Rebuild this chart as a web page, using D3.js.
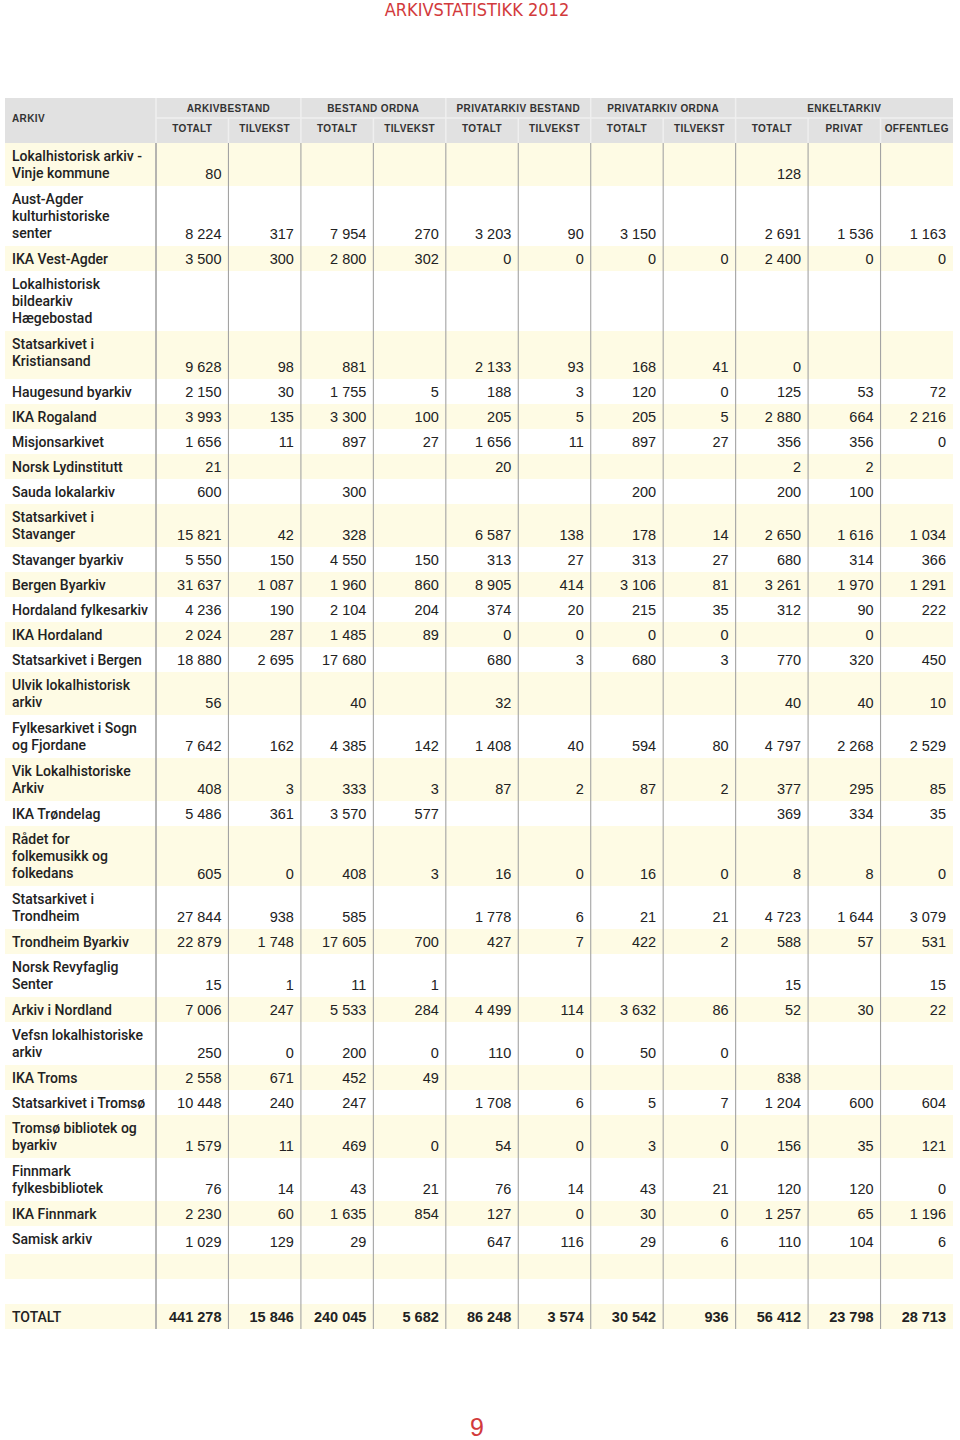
<!DOCTYPE html>
<html>
<head>
<meta charset="utf-8">
<script src="https://cdn.jsdelivr.net/npm/d3@7"></script>
<style>
  body { margin: 0; background: #fff; }
  text { font-family: "Liberation Sans", Arial, sans-serif; }
</style>
</head>
<body>
<script>
const w = 960;
const h = 1440;

// header texts
const title = "ARKIVSTATISTIKK 2012";
const pageNumber = "9";
const groups = [
  { name: "ARKIVBESTAND", span: 2 },
  { name: "BESTAND ORDNA", span: 2 },
  { name: "PRIVATARKIV BESTAND", span: 2 },
  { name: "PRIVATARKIV ORDNA", span: 2 },
  { name: "ENKELTARKIV", span: 3 }
];
const subHeads = ["TOTALT", "TILVEKST", "TOTALT", "TILVEKST", "TOTALT", "TILVEKST",
  "TOTALT", "TILVEKST", "TOTALT", "PRIVAT", "OFFENTLEG"];

// row labels (\n = line break as printed)
const archives = [
  "Lokalhistorisk arkiv -\nVinje kommune",
  "Aust-Agder\nkulturhistoriske\nsenter",
  "IKA Vest-Agder",
  "Lokalhistorisk\nbildearkiv\nHægebostad",
  "Statsarkivet i\nKristiansand",
  "Haugesund byarkiv",
  "IKA Rogaland",
  "Misjonsarkivet",
  "Norsk Lydinstitutt",
  "Sauda lokalarkiv",
  "Statsarkivet i\nStavanger",
  "Stavanger byarkiv",
  "Bergen Byarkiv",
  "Hordaland fylkesarkiv",
  "IKA Hordaland",
  "Statsarkivet i Bergen",
  "Ulvik lokalhistorisk\narkiv",
  "Fylkesarkivet i Sogn\nog Fjordane",
  "Vik Lokalhistoriske\nArkiv",
  "IKA Trøndelag",
  "Rådet for\nfolkemusikk og\nfolkedans",
  "Statsarkivet i\nTrondheim",
  "Trondheim Byarkiv",
  "Norsk Revyfaglig\nSenter",
  "Arkiv i Nordland",
  "Vefsn lokalhistoriske\narkiv",
  "IKA Troms",
  "Statsarkivet i Tromsø",
  "Tromsø bibliotek og\nbyarkiv",
  "Finnmark\nfylkesbibliotek",
  "IKA Finnmark",
  "Samisk arkiv",
  "",
  "",
  "TOTALT"
];

// values per row, columns in subHeads order; null = empty cell
const values = [
  [80, null, null, null, null, null, null, null, 128, null, null],
  [8224, 317, 7954, 270, 3203, 90, 3150, null, 2691, 1536, 1163],
  [3500, 300, 2800, 302, 0, 0, 0, 0, 2400, 0, 0],
  [null, null, null, null, null, null, null, null, null, null, null],
  [9628, 98, 881, null, 2133, 93, 168, 41, 0, null, null],
  [2150, 30, 1755, 5, 188, 3, 120, 0, 125, 53, 72],
  [3993, 135, 3300, 100, 205, 5, 205, 5, 2880, 664, 2216],
  [1656, 11, 897, 27, 1656, 11, 897, 27, 356, 356, 0],
  [21, null, null, null, 20, null, null, null, 2, 2, null],
  [600, null, 300, null, null, null, 200, null, 200, 100, null],
  [15821, 42, 328, null, 6587, 138, 178, 14, 2650, 1616, 1034],
  [5550, 150, 4550, 150, 313, 27, 313, 27, 680, 314, 366],
  [31637, 1087, 1960, 860, 8905, 414, 3106, 81, 3261, 1970, 1291],
  [4236, 190, 2104, 204, 374, 20, 215, 35, 312, 90, 222],
  [2024, 287, 1485, 89, 0, 0, 0, 0, null, 0, null],
  [18880, 2695, 17680, null, 680, 3, 680, 3, 770, 320, 450],
  [56, null, 40, null, 32, null, null, null, 40, 40, 10],
  [7642, 162, 4385, 142, 1408, 40, 594, 80, 4797, 2268, 2529],
  [408, 3, 333, 3, 87, 2, 87, 2, 377, 295, 85],
  [5486, 361, 3570, 577, null, null, null, null, 369, 334, 35],
  [605, 0, 408, 3, 16, 0, 16, 0, 8, 8, 0],
  [27844, 938, 585, null, 1778, 6, 21, 21, 4723, 1644, 3079],
  [22879, 1748, 17605, 700, 427, 7, 422, 2, 588, 57, 531],
  [15, 1, 11, 1, null, null, null, null, 15, null, 15],
  [7006, 247, 5533, 284, 4499, 114, 3632, 86, 52, 30, 22],
  [250, 0, 200, 0, 110, 0, 50, 0, null, null, null],
  [2558, 671, 452, 49, null, null, null, null, 838, null, null],
  [10448, 240, 247, null, 1708, 6, 5, 7, 1204, 600, 604],
  [1579, 11, 469, 0, 54, 0, 3, 0, 156, 35, 121],
  [76, 14, 43, 21, 76, 14, 43, 21, 120, 120, 0],
  [2230, 60, 1635, 854, 127, 0, 30, 0, 1257, 65, 1196],
  [1029, 129, 29, null, 647, 116, 29, 6, 110, 104, 6],
  [null, null, null, null, null, null, null, null, null, null, null],
  [null, null, null, null, null, null, null, null, null, null, null],
  [441278, 15846, 240045, 5682, 86248, 3574, 30542, 936, 56412, 23798, 28713]
];

const red = "#d23a3c";
const headGrey = "#e1e1e1";
const yellow = "#fefbe4";
const lineGrey = "#a3a3a3";
const ink = "#222";

const fmt = d3.formatLocale({ decimal: ",", thousands: " ", grouping: [3], currency: ["", ""] }).format(",d");

const svg = d3.select("body").append("svg")
  .attr("width", w)
  .attr("height", h);

// layout
const tableLeft = 5, tableRight = 953, labelRight = 156;
const headTop = 98, headMid = 118, bodyTop = 143, bodyBottom = 1329;

const x = d3.scaleBand()
  .domain(d3.range(subHeads.length))
  .range([labelRight, tableRight]);

// row height by number of label lines, plus a little slack on two rows as printed
const heightByLines = [25, 25, 43, 60];
const rowExtra = { 4: 5, 31: 3 };
const lineH = 17;
const rows = archives.map((a, i) => {
  const label = a.split("\n");
  return { label: label, vals: values[i], units: heightByLines[label.length] + (rowExtra[i] || 0) };
});
let acc = 0;
rows.forEach(r => { r.u0 = acc; acc += r.units; r.u1 = acc; });
const y = d3.scaleLinear().domain([0, acc]).range([bodyTop, bodyBottom]);

// title
svg.append("text")
  .attr("x", 477)
  .attr("y", 16)
  .attr("text-anchor", "middle")
  .style("font-family", "'Liberation Sans Narrow', 'DejaVu Sans Condensed', sans-serif")
  .style("font-size", "18px")
  .attr("fill", red)
  .text(title);

// header block
svg.append("rect")
  .attr("x", tableLeft).attr("y", headTop)
  .attr("width", tableRight - tableLeft).attr("height", bodyTop - headTop)
  .attr("fill", headGrey);

svg.append("text")
  .attr("x", 12).attr("y", 122)
  .attr("fill", "#333")
  .style("font-size", "10px").style("font-weight", "bold").style("letter-spacing", "0.4px")
  .text("ARKIV");

let start = 0;
const groupData = groups.map(g => {
  const d = { name: g.name, x0: x(start), x1: x(start + g.span - 1) + x.bandwidth() };
  start += g.span;
  return d;
});

const head = svg.append("g").attr("class", "head");
head.selectAll(".group")
  .data(groupData)
  .enter().append("text")
  .attr("x", d => (d.x0 + d.x1) / 2)
  .attr("y", 112)
  .attr("text-anchor", "middle")
  .attr("fill", "#333")
  .style("font-size", "10px").style("font-weight", "bold").style("letter-spacing", "0.4px")
  .text(d => d.name);

head.selectAll(".sub")
  .data(subHeads)
  .enter().append("text")
  .attr("x", (d, i) => x(i) + x.bandwidth() / 2)
  .attr("y", 132)
  .attr("text-anchor", "middle")
  .attr("fill", "#333")
  .style("font-size", "10px").style("font-weight", "bold").style("letter-spacing", "0.4px")
  .text(d => d);

// header separators
head.append("line")
  .attr("x1", labelRight).attr("x2", tableRight)
  .attr("y1", headMid).attr("y2", headMid)
  .attr("stroke", "#efefef").attr("stroke-width", 1.5);
head.selectAll(".gsep")
  .data(groupData)
  .enter().append("line")
  .attr("x1", d => d.x0).attr("x2", d => d.x0)
  .attr("y1", headTop).attr("y2", headMid)
  .attr("stroke", "#efefef").attr("stroke-width", 1.5);
head.selectAll(".ssep")
  .data(subHeads)
  .enter().append("line")
  .attr("x1", (d, i) => x(i)).attr("x2", (d, i) => x(i))
  .attr("y1", headMid).attr("y2", bodyTop)
  .attr("stroke", "#efefef").attr("stroke-width", 1.5);

// body rows
const body = svg.append("g").attr("class", "body");
const row = body.selectAll(".row")
  .data(rows)
  .enter().append("g")
  .attr("class", "row");

row.append("rect")
  .attr("x", tableLeft)
  .attr("y", d => y(d.u0))
  .attr("width", tableRight - tableLeft)
  .attr("height", d => y(d.u1) - y(d.u0))
  .attr("fill", (d, i) => i % 2 === 0 ? yellow : "#fff");

row.append("text")
  .attr("x", 12)
  .attr("fill", ink)
  .style("font-family", "Roboto, 'Liberation Sans', sans-serif")
  .style("font-weight", 500)
  .style("font-size", "14px")
  .selectAll("tspan")
  .data(d => d.label.map((l, k) => ({ l, k, top: y(d.u0) })))
  .enter().append("tspan")
  .attr("x", 12)
  .attr("y", d => d.top + 17.5 + d.k * lineH)
  .text(d => d.l);

// column rules
body.selectAll(".vline")
  .data(d3.range(subHeads.length))
  .enter().append("line")
  .attr("x1", i => x(i)).attr("x2", i => x(i))
  .attr("y1", bodyTop).attr("y2", bodyBottom)
  .attr("stroke", lineGrey)
  .attr("stroke-width", i => i === 0 ? 1.6 : 1.1);

// numbers
row.selectAll(".val")
  .data((d, i) => d.vals.map((v, c) => ({ v, c, bottom: y(d.u1), total: i === rows.length - 1 })))
  .enter().filter(d => d.v !== null).append("text")
  .attr("x", d => x(d.c) + x.bandwidth() - 7)
  .attr("y", d => d.bottom - 7.5)
  .attr("text-anchor", "end")
  .attr("fill", ink)
  .style("font-size", "14.5px")
  .style("font-weight", d => d.total ? "bold" : "normal")
  .text(d => fmt(d.v));

// page number
svg.append("text")
  .attr("x", 477)
  .attr("y", 1436)
  .attr("text-anchor", "middle")
  .attr("fill", red)
  .style("font-size", "25px")
  .text(pageNumber);
</script>
</body>
</html>
